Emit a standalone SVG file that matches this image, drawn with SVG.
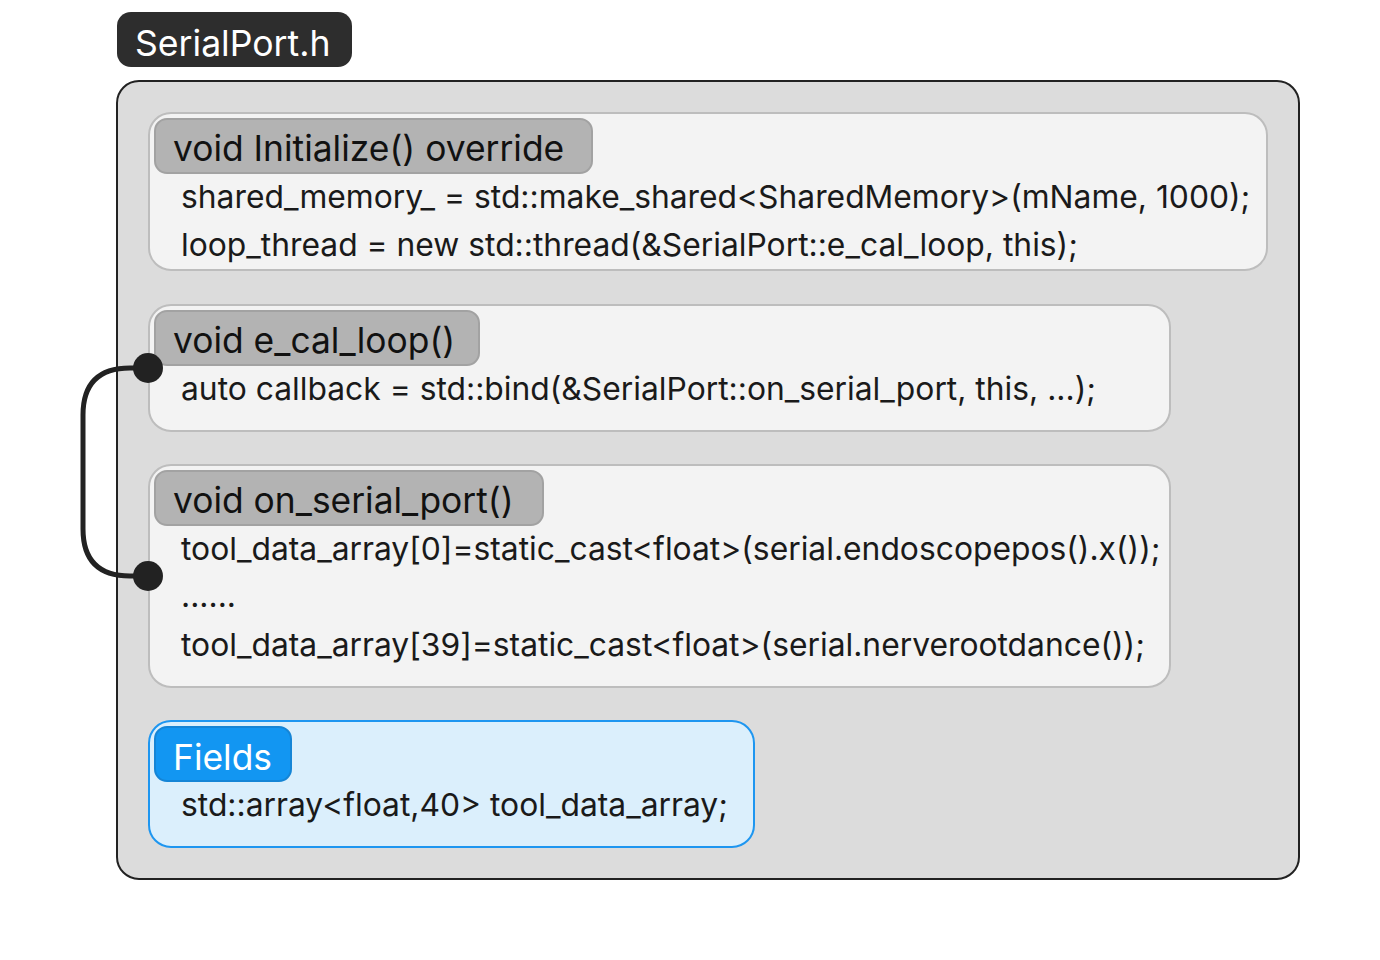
<svg xmlns="http://www.w3.org/2000/svg" width="1380" height="960" viewBox="0 0 1380 960">
<style>
text{font-family:Inter,"Noto Sans","Liberation Sans",sans-serif;}
.box{fill:#f3f3f3;stroke:#bdbdbd;stroke-width:2;}
.hdr{fill:#b3b3b3;stroke:#a2a2a2;stroke-width:2;}
.ht{font-size:35.4px;fill:#111;}
.ln{font-size:31.8px;fill:#1a1a1a;}
</style>
<rect width="1380" height="960" fill="#ffffff"/>
<g id="container">
<rect x="117" y="81" width="1182" height="798" rx="22" fill="#dcdcdc" stroke="#222" stroke-width="2"/>
<rect x="117" y="12" width="235" height="55" rx="14" fill="#2d2d2d"/>
<text x="135" y="56" font-size="35.6" fill="#fff">SerialPort.h</text>
</g>
<g id="initialize">
<rect class="box" x="149" y="113" width="1118" height="157" rx="22"/>
<rect class="hdr" x="155" y="119" width="437" height="54" rx="12"/>
<text class="ht" x="173" y="161">void Initialize() override</text>
<text class="ln" x="181" y="208">shared_memory_ = std::make_shared&lt;SharedMemory&gt;(mName, 1000);</text>
<text class="ln" x="181" y="256">loop_thread = new std::thread(&amp;SerialPort::e_cal_loop, this);</text>
</g>
<g id="e_cal_loop">
<rect class="box" x="149" y="305" width="1021" height="126" rx="22"/>
<rect class="hdr" x="155" y="311" width="324" height="54" rx="12"/>
<text class="ht" x="173" y="353">void e_cal_loop()</text>
<text class="ln" x="181" y="400">auto callback = std::bind(&amp;SerialPort::on_serial_port, this, ...);</text>
</g>
<g id="on_serial_port">
<rect class="box" x="149" y="465" width="1021" height="222" rx="22"/>
<rect class="hdr" x="155" y="471" width="388" height="54" rx="12"/>
<text class="ht" x="173" y="513">void on_serial_port()</text>
<text class="ln" x="181" y="560">tool_data_array[0]=static_cast&lt;float&gt;(serial.endoscopepos().x());</text>
<text class="ln" x="181" y="607">......</text>
<text class="ln" x="181" y="656">tool_data_array[39]=static_cast&lt;float&gt;(serial.nerverootdance());</text>
</g>
<g id="fields">
<rect x="149" y="721" width="605" height="126" rx="22" fill="#dbeffc" stroke="#1e96f0" stroke-width="2"/>
<rect x="155" y="727" width="136" height="54" rx="12" fill="#1296f2" stroke="#1585d6" stroke-width="2"/>
<text x="173" y="770" font-size="35.4" fill="#fff">Fields</text>
<text class="ln" x="181" y="816">std::array&lt;float,40&gt; tool_data_array;</text>
</g>
<g id="connectors">
<path d="M148,368 H130 Q83,368 83,415 V529 Q83,576 130,576 H148" fill="none" stroke="#222" stroke-width="5"/>
<circle cx="148" cy="368" r="15" fill="#222"/>
<circle cx="148" cy="576" r="15" fill="#222"/>
</g>
</svg>
